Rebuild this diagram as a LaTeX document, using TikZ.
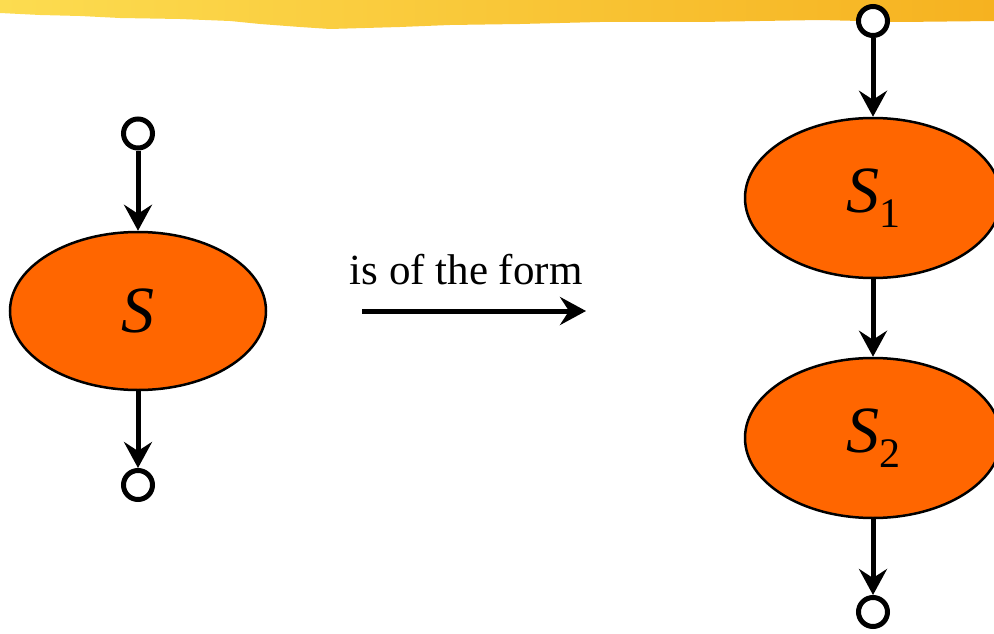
\documentclass[tikz,border=0pt]{standalone}
\usepackage{fontspec}
\setmainfont{Liberation Serif}
\usetikzlibrary{shapes.geometric,arrows.meta}
\definecolor{nodeorange}{RGB}{255,102,0}
\definecolor{bandA}{RGB}{252,220,80}
\definecolor{bandB}{RGB}{246,178,32}
\tikzset{
  port/.style={circle,draw=black,line width=5pt,fill=white,minimum size=29pt,inner sep=0pt},
  stmt/.style={ellipse,draw=black,line width=2.5pt,fill=nodeorange,minimum width=256pt,inner sep=0pt},
  arr/.style={line width=5pt,-{Stealth[length=26pt,width=28pt,inset=9pt]}},
  big/.style={font=\fontsize{66}{70}\selectfont\itshape}
}
\newcommand{\subidx}[1]{\raisebox{-15pt}{\upshape\fontsize{42}{44}\selectfont #1}}
\begin{document}
\begin{tikzpicture}[x=1pt,y=-1pt]
\useasboundingbox (0,0) rectangle (994,634);
% yellow brush band
\shade[left color=bandA,right color=bandB]
  (0,0) -- (994,0) -- (994,21) -- (900,22) -- (820,20) -- (700,22) -- (600,22)
  -- (520,24) -- (450,25) -- (400,27) -- (330,29) -- (300,27) -- (260,24)
  -- (230,21) -- (180,19) -- (120,18) -- (80,16) -- (40,15) -- (0,13) -- cycle;
% left
\node[port] (a0) at (138,133.5) {};
\node[stmt,minimum height=158pt,big] (s) at (138,311) {S};
\node[port] (a1) at (138,485) {};
\draw[arr] (a0) -- (s);
\draw[arr] (s) -- (a1);
% middle
\coordinate (m0) at (362,311);
\coordinate (m1) at (586,311);
\draw[arr] (m0) -- (m1);
\node[font=\fontsize{43}{48}\selectfont,anchor=base,inner sep=0pt] (lbl) at (466,284) {is of the form};
% right
\node[port] (b0) at (873,21) {};
\node[stmt,minimum height=160pt,big] (s1) at (873,198) {S\subidx{1}};
\node[stmt,minimum height=160pt,big] (s2) at (873,438) {S\subidx{2}};
\node[port] (b1) at (873,612) {};
\draw[arr] (b0) -- (s1);
\draw[arr] (s1) -- (s2);
\draw[arr] (s2) -- (b1);
\end{tikzpicture}
\end{document}
